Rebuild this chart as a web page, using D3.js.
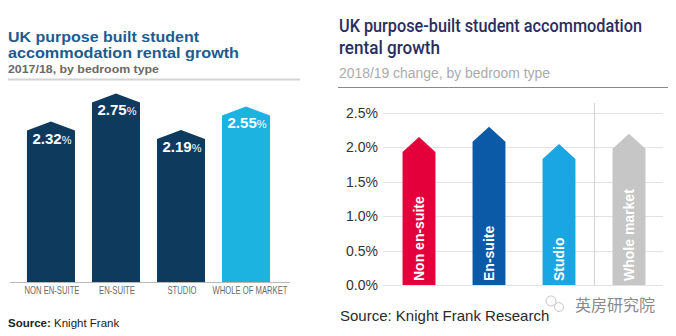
<!DOCTYPE html>
<html><head><meta charset="utf-8">
<script src="https://cdn.jsdelivr.net/npm/d3@7"></script>
<style>body{margin:0;background:#fff}svg{display:block}</style>
</head><body>
<svg id="c" width="676" height="336"></svg>
<script>
// Left chart data (2017/18)
const leftCategories = ["NON EN-SUITE", "EN-SUITE", "STUDIO", "WHOLE OF MARKET"];
const leftValues = [2.32, 2.75, 2.19, 2.55];
const leftLabels = ["2.32", "2.75", "2.19", "2.55"];
// Right chart data (2018/19)
const rightCategories = ["Non en-suite", "En-suite", "Studio", "Whole market"];
const rightValues = [2.15, 2.3, 2.05, 2.2];
const rightTicks = [0, 0.5, 1.0, 1.5, 2.0, 2.5];

const svg = d3.select("#c");
svg.append("rect").attr("width", 676).attr("height", 336).attr("fill", "#fff");

function fitText(sel, w) { sel.attr("textLength", w).attr("lengthAdjust", "spacingAndGlyphs"); return sel; }

// ---------- LEFT ----------
const L = svg.append("g");
const lf = "Arial, 'Liberation Sans', sans-serif";
fitText(L.append("text").attr("x", 8).attr("y", 42).attr("font-family", lf).attr("font-weight", "bold")
  .attr("font-size", 14.5).attr("fill", "#1e5b8e").text("UK purpose built student"), 191);
fitText(L.append("text").attr("x", 8).attr("y", 58).attr("font-family", lf).attr("font-weight", "bold")
  .attr("font-size", 14.5).attr("fill", "#1e5b8e").text("accommodation rental growth"), 231);
fitText(L.append("text").attr("x", 8).attr("y", 73).attr("font-family", lf).attr("font-weight", "bold")
  .attr("font-size", 11.5).attr("fill", "#6a6a6a").text("2017/18, by bedroom type"), 151);
L.append("line").attr("x1", 8).attr("x2", 300).attr("y1", 79.5).attr("y2", 79.5).attr("stroke", "#d4d4d4").attr("stroke-width", 2);

const lx = d3.scaleBand().domain(leftCategories).range([18.5, 278.5]).paddingInner(0.2615).paddingOuter(0.13);
const ly = d3.scaleLinear().domain([0, 3]).range([282, 86.1]);
const leftColors = ["#0e3a5e", "#0e3a5e", "#0e3a5e", "#1db3e1"];
leftCategories.forEach((c, i) => {
  const x0 = lx(c), w = lx.bandwidth(), top = ly(leftValues[i]), base = ly(0);
  const p = d3.path();
  p.moveTo(x0, base); p.lineTo(x0, top); p.lineTo(x0 + w / 2, top - 9); p.lineTo(x0 + w, top); p.lineTo(x0 + w, base); p.closePath();
  L.append("path").attr("d", p.toString()).attr("fill", leftColors[i]);
  const t = L.append("text").attr("x", x0 + w / 2 + 1).attr("y", top + 13).attr("text-anchor", "middle")
    .attr("font-family", lf).attr("fill", "#fff");
  t.append("tspan").attr("font-weight", "bold").attr("font-size", 15).text(leftLabels[i]);
  t.append("tspan").attr("font-size", 11).text("%");
});
L.append("line").attr("x1", 10).attr("x2", 290).attr("y1", 282.5).attr("y2", 282.5).attr("stroke", "#b8b8b8").attr("stroke-width", 1.2);
const labW = [55, 36, 29, 75];
leftCategories.forEach((c, i) => {
  fitText(L.append("text").attr("x", lx(c) + lx.bandwidth() / 2 + (i === 3 ? 4 : 1)).attr("y", 294).attr("text-anchor", "middle")
    .attr("font-family", "'Liberation Sans Narrow', Arial, sans-serif").attr("font-size", 10.5).attr("fill", "#6a6a6a").text(c), labW[i]);
});
const ls = L.append("text").attr("x", 8).attr("y", 327).attr("font-family", lf).attr("font-size", 11.5).attr("fill", "#222");
ls.append("tspan").attr("font-weight", "bold").text("Source:");
ls.append("tspan").text(" Knight Frank");

// ---------- RIGHT ----------
const R = svg.append("g");
const rf = "'Liberation Sans', Arial, sans-serif";
const tf = "Roboto, 'Liberation Sans', sans-serif";
fitText(R.append("text").attr("x", 339).attr("y", 32).attr("font-family", tf).attr("font-weight", 500).attr("font-size", 17.5)
  .attr("fill", "#2a2d5e").text("UK purpose-built student accommodation"), 303);
fitText(R.append("text").attr("x", 339).attr("y", 54).attr("font-family", tf).attr("font-weight", 500).attr("font-size", 17.5)
  .attr("fill", "#2a2d5e").text("rental growth"), 101);
fitText(R.append("text").attr("x", 339).attr("y", 78).attr("font-family", rf).attr("font-size", 14)
  .attr("fill", "#ababab").text("2018/19 change, by bedroom type"), 211);
R.append("line").attr("x1", 338).attr("x2", 668).attr("y1", 87.5).attr("y2", 87.5).attr("stroke", "#8a8a8a").attr("stroke-width", 1);

const ry = d3.scaleLinear().domain([0, 2.5]).range([285, 113]);
const rx = d3.scaleBand().domain(rightCategories).range([384, 664]).paddingInner(0.53).paddingOuter(0.265);
// gridlines
R.append("g").selectAll("line").data(rightTicks).join("line")
  .attr("x1", 383).attr("x2", 663).attr("y1", d => Math.round(ry(d)) + 0.5).attr("y2", d => Math.round(ry(d)) + 0.5)
  .attr("stroke", "#e2e2e2").attr("stroke-width", 1.2);
// axis labels via d3 axis
const ax = R.append("g").attr("transform", "translate(383,0)")
  .call(d3.axisLeft(ry).tickValues(rightTicks).tickFormat(d => d3.format(".1f")(d) + "%").tickSize(0).tickPadding(5));
ax.select(".domain").remove();
ax.selectAll("text").attr("font-family", rf).attr("font-size", 14).attr("fill", "#333");
// separator
R.append("line").attr("x1", 594.5).attr("x2", 594.5).attr("y1", 103).attr("y2", 285).attr("stroke", "#d6d6d6").attr("stroke-width", 1.2);

const rightColors = ["#e4003b", "#0b5aa8", "#1aa6e2", "#c6c6c6"];
rightCategories.forEach((c, i) => {
  const x0 = rx(c), w = rx.bandwidth(), apex = ry(rightValues[i]), base = ry(0), sh = apex + 15;
  const p = d3.path();
  p.moveTo(x0, base); p.lineTo(x0, sh); p.lineTo(x0 + w / 2, apex); p.lineTo(x0 + w, sh); p.lineTo(x0 + w, base); p.closePath();
  R.append("path").attr("d", p.toString()).attr("fill", rightColors[i]);
  R.append("text").attr("transform", `translate(${x0 + w / 2 + 5},${base - 4}) rotate(-90)`)
    .attr("font-family", rf).attr("font-weight", "bold").attr("font-size", 14).attr("fill", "#fff").text(c);
});

R.append("text").attr("x", 340).attr("y", 321).attr("font-family", rf).attr("font-size", 15).attr("fill", "#2a2a2a")
  .text("Source: Knight Frank Research");
// watermark
const wm = R.append("g").attr("fill", "none").attr("stroke", "#c8c8c8").attr("stroke-width", 1);
wm.append("circle").attr("cx", 551).attr("cy", 301).attr("r", 5);
wm.append("circle").attr("cx", 559).attr("cy", 307).attr("r", 4.5);
R.append("text").attr("x", 575).attr("y", 311).attr("font-family", "'Noto Sans CJK SC', sans-serif").attr("font-size", 16)
  .attr("fill", "#8a8a8a").text("英房研究院");
</script>
</body></html>
